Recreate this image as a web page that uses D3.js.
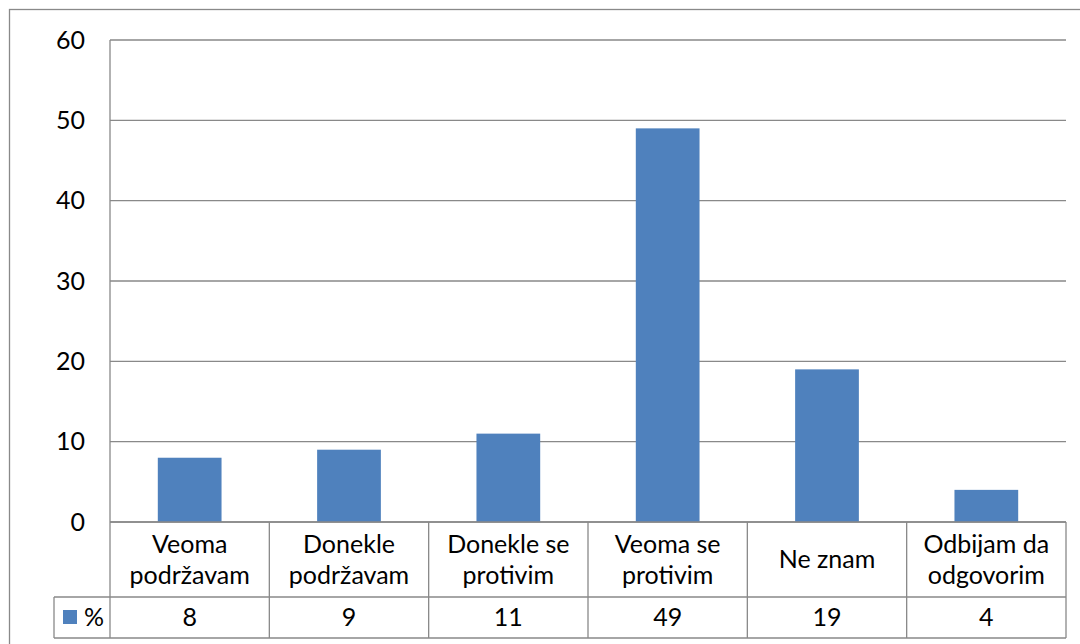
<!DOCTYPE html>
<html>
<head>
<meta charset="utf-8">
<script src="https://cdn.jsdelivr.net/npm/d3@7"></script>
<style>
  html, body { margin: 0; padding: 0; background: #fff; }
  svg { display: block; }
  text { font-family: Lato, "Open Sans", sans-serif; fill: #000; }
</style>
</head>
<body>
<svg id="chart" width="1080" height="644"></svg>
<script>
const categories = [
  ["Veoma", "podržavam"],
  ["Donekle", "podržavam"],
  ["Donekle se", "protivim"],
  ["Veoma se", "protivim"],
  ["Ne znam"],
  ["Odbijam da", "odgovorim"]
];
const values = [8, 9, 11, 49, 19, 4];
const seriesName = "%";
const yTicks = [0, 10, 20, 30, 40, 50, 60];

const W = 1080, H = 644;
const plot = { left: 110, right: 1066, top: 40, bottom: 522 };
const table = { row1: 597, row2: 638, legendLeft: 54 };
const fontSize = 25;
const gridColor = "#898989";
const barColor = "#4F81BD";

const svg = d3.select("#chart");

// outer border (extends past right/bottom)
svg.append("rect")
  .attr("x", 9.5).attr("y", 9.5)
  .attr("width", W + 20).attr("height", H + 20)
  .attr("fill", "none").attr("stroke", gridColor).attr("stroke-width", 1.3);

const keys = categories.map(c => c.join(" "));
const x = d3.scaleBand().domain(keys).range([plot.left, plot.right]);
const xBar = d3.scaleBand().domain(keys).range([plot.left, plot.right])
  .paddingInner(0.6).paddingOuter(0.3);
const y = d3.scaleLinear().domain([0, 60]).range([plot.bottom, plot.top]);

// gridlines
svg.append("g").selectAll("line").data(yTicks).join("line")
  .attr("x1", plot.left).attr("x2", plot.right)
  .attr("y1", d => y(d)).attr("y2", d => y(d))
  .attr("stroke", gridColor).attr("stroke-width", 1.3);

// y-axis labels
const yAxis = d3.axisLeft(y).tickValues(yTicks).tickSize(0).tickPadding(0);
const yg = svg.append("g").attr("transform", `translate(${plot.left},0)`).call(yAxis);
yg.select(".domain").remove();
yg.selectAll("text")
  .attr("x", 85 - plot.left)
  .style("font-family", "Lato, sans-serif")
  .style("font-size", fontSize + "px")
  .attr("fill", "#000");

// bars
svg.append("g").selectAll("rect").data(values).join("rect")
  .attr("x", (d, i) => xBar(keys[i]))
  .attr("width", xBar.bandwidth())
  .attr("y", d => y(d))
  .attr("height", d => y(0) - y(d))
  .attr("fill", barColor);

// data table lines
const tl = svg.append("g").attr("stroke", gridColor).attr("stroke-width", 1.3);
tl.append("line").attr("x1", plot.left).attr("x2", plot.left).attr("y1", plot.top).attr("y2", table.row2);
const bounds = keys.map(k => x(k) + x.bandwidth());
tl.selectAll("line.v").data(bounds).join("line").attr("class", "v")
  .attr("x1", d => d).attr("x2", d => d)
  .attr("y1", plot.bottom).attr("y2", table.row2);
tl.append("line").attr("x1", plot.left).attr("x2", plot.right).attr("y1", plot.bottom).attr("y2", plot.bottom);
tl.append("line").attr("x1", table.legendLeft).attr("x2", plot.right).attr("y1", table.row1).attr("y2", table.row1);
tl.append("line").attr("x1", table.legendLeft).attr("x2", plot.right).attr("y1", table.row2).attr("y2", table.row2);
tl.append("line").attr("x1", table.legendLeft).attr("x2", table.legendLeft).attr("y1", table.row1).attr("y2", table.row2);

// category labels
const lineH = 31.5;
const row1Mid = (plot.bottom + table.row1) / 2;
const catG = svg.append("g").selectAll("text").data(categories).join("text")
  .attr("text-anchor", "middle")
  .style("font-size", fontSize + "px")
  .attr("x", (d, i) => x(keys[i]) + x.bandwidth() / 2);
catG.each(function (d) {
  const t = d3.select(this);
  const n = d.length;
  d.forEach((s, j) => {
    t.append("tspan")
      .attr("x", t.attr("x"))
      .attr("y", row1Mid + (j - (n - 1) / 2) * lineH)
      .attr("dy", "0.35em")
      .text(s);
  });
});

// values row
const row2Mid = (table.row1 + table.row2) / 2;
svg.append("g").selectAll("text").data(values).join("text")
  .attr("text-anchor", "middle")
  .style("font-size", fontSize + "px")
  .attr("x", (d, i) => x(keys[i]) + x.bandwidth() / 2)
  .attr("y", row2Mid).attr("dy", "0.35em")
  .text(d => d);

// legend key
svg.append("rect").attr("x", 63).attr("y", 610).attr("width", 14).attr("height", 14).attr("fill", barColor);
svg.append("text").attr("x", 84).attr("y", row2Mid).attr("dy", "0.35em")
  .style("font-size", fontSize + "px").text(seriesName);
</script>
</body>
</html>
